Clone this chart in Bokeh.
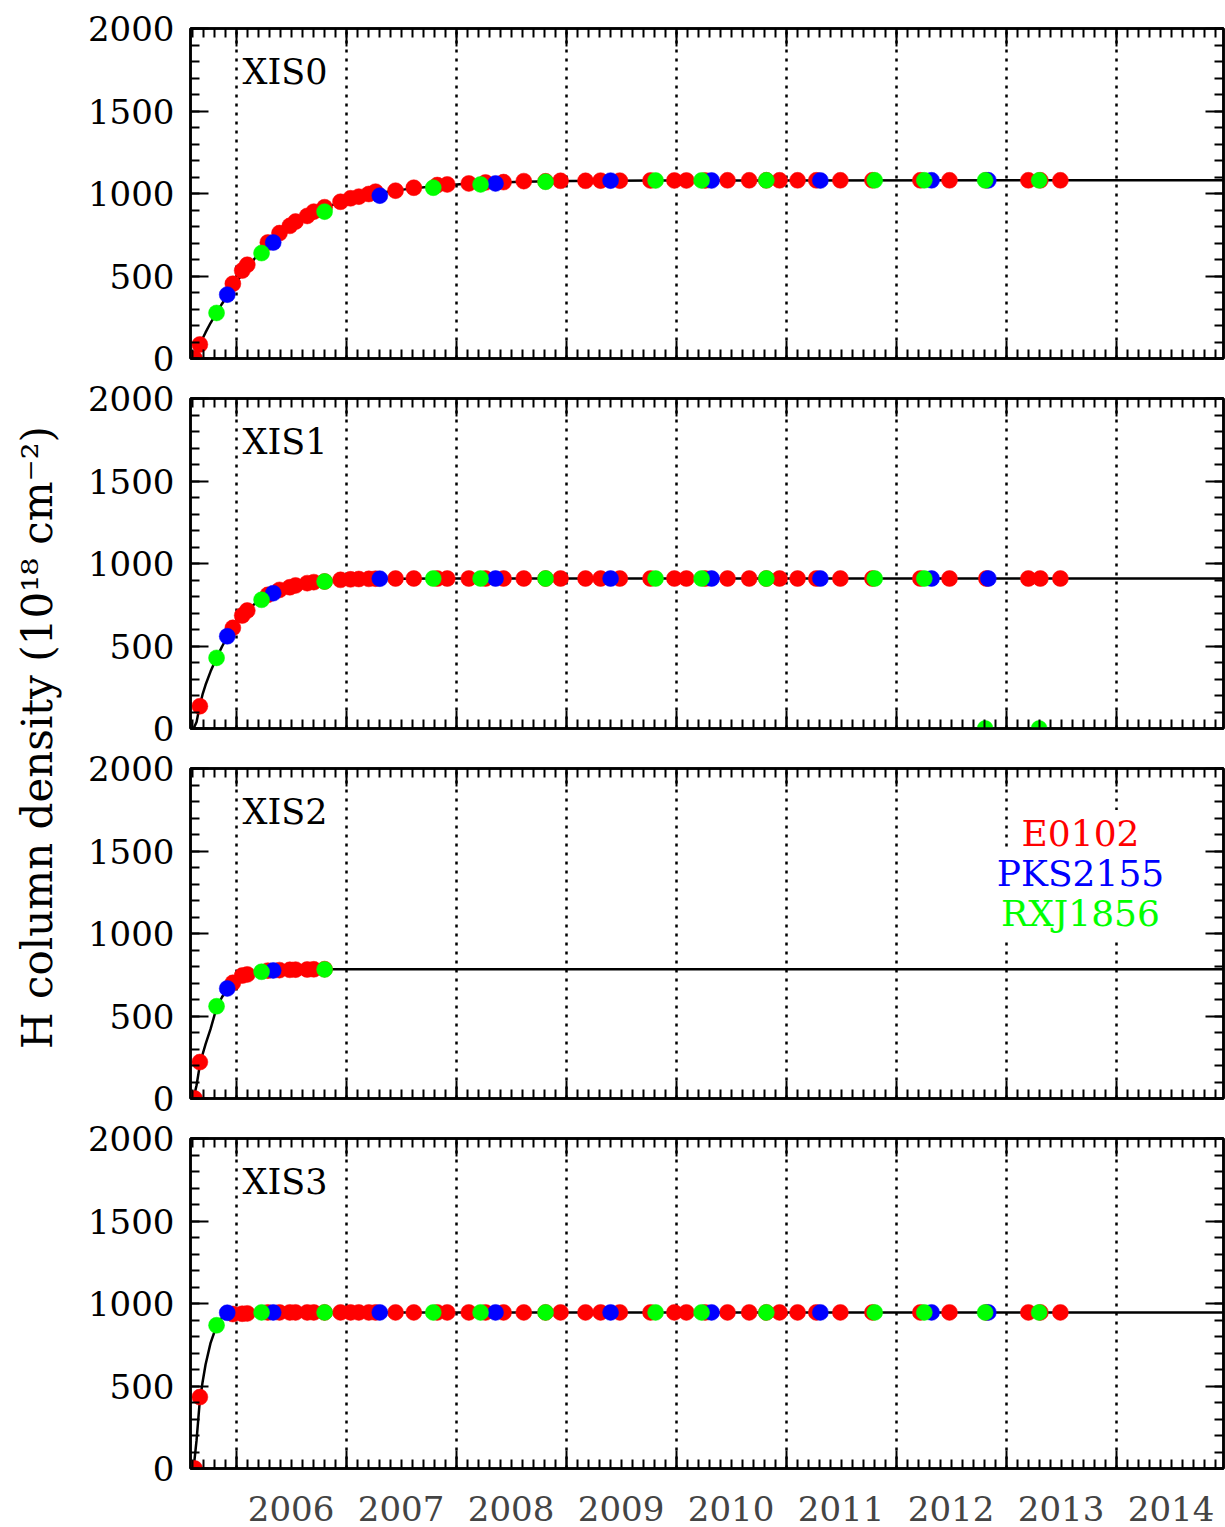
import math
import numpy as np
from bokeh.plotting import figure
from bokeh.layouts import row, column
from bokeh.models import (Range1d, LinearAxis, FixedTicker, SingleIntervalTicker,
                          Label, CustomJSTickFormatter)
from bokeh.embed import file_html
from bokeh.resources import INLINE

nan = float("nan")

# ---------------- data ----------------
detectors = ["XIS0", "XIS1", "XIS2", "XIS3"]
year_bounds = [2006, 2007, 2008, 2009, 2010, 2011, 2012, 2013, 2014]
year_labels = ["2006", "2007", "2008", "2009", "2010", "2011", "2012", "2013", "2014"]
source_names = ["E0102", "PKS2155", "RXJ1856"]

# observation epochs (year)
e0102_t = [2005.623, 2005.671, 2005.971, 2006.056, 2006.102, 2006.289, 2006.395, 2006.489,
           2006.541, 2006.647, 2006.707, 2006.805, 2006.950, 2007.041, 2007.116, 2007.207,
           2007.268, 2007.450, 2007.616, 2007.829, 2007.920, 2008.116, 2008.268, 2008.432,
           2008.616, 2008.814, 2008.950, 2009.177, 2009.314, 2009.489, 2009.768, 2009.985,
           2010.094, 2010.265, 2010.468, 2010.665, 2010.821, 2010.941, 2011.105, 2011.275,
           2011.494, 2011.785, 2012.221, 2012.486, 2012.821, 2013.203, 2013.312, 2013.494]
pks2155_t = [2005.920, 2006.338, 2007.307, 2008.359, 2009.405, 2010.323, 2011.312, 2012.323, 2012.839]
rxj1856_t = [2005.823, 2006.232, 2006.805, 2007.793, 2008.223, 2008.814, 2009.814, 2010.232,
             2010.821, 2011.806, 2012.257, 2012.810, 2013.301]

# H column density (1e18 cm^-2) per detector
e0102_xis0 = [0, 85, 453, 533, 568, 703, 760, 804, 830, 864, 890, 917, 950, 971, 981, 997,
              1011, 1017, 1035, 1051, 1055, 1061, 1067, 1069, 1075, 1074, 1077, 1077, 1078, 1078,
              1079, 1079, 1079, 1079, 1080, 1080, 1080, 1080, 1080, 1080, 1080, 1080, 1080, 1080,
              1080, 1080, 1080, 1080]
e0102_xis1 = [nan, 135, 610, 685, 715, 810, 840, 856, 867, 881, 887, 891, 901, 904, 906, 907,
              908, 909, 909, 909, 909, 909, 909, 909, 909, 909, 909, 909, 909, 909,
              909, 909, 909, 909, 909, 909, 909, 909, 909, 909, 909, 909, 909, 909,
              909, 909, 909, 909]
e0102_xis2 = [0, 221, 701, 745, 752, 775, 778, 780, 781, 782, 783, 784, nan, nan, nan, nan,
              nan, nan, nan, nan, nan, nan, nan, nan, nan, nan, nan, nan, nan, nan,
              nan, nan, nan, nan, nan, nan, nan, nan, nan, nan, nan, nan, nan, nan,
              nan, nan, nan, nan]
e0102_xis3 = [0, 433, 936, 938, 940, 946, 946, 946, 946, 946, 946, 946, 946, 946, 946, 946,
              946, 946, 946, 946, 946, 946, 946, 946, 946, 946, 946, 946, 946, 946,
              946, 946, 946, 946, 946, 946, 946, 946, 946, 946, 946, 946, 946, 946,
              946, 946, 946, 946]

pks2155_xis0 = [387, 703, 987, 1061, 1078, 1079, 1079, 1080, 1080]
pks2155_xis1 = [559, 820, 908, 909, 909, 909, 909, 909, 909]
pks2155_xis2 = [667, 776, nan, nan, nan, nan, nan, nan, nan]
pks2155_xis3 = [944, 946, 946, 946, 946, 946, 946, 946, 946]

rxj1856_xis0 = [276, 639, 890, 1035, 1055, 1071, 1079, 1079, 1080, 1080, 1080, 1080, 1080]
rxj1856_xis1 = [428, 780, 891, 909, 909, 909, 909, 909, 909, 909, 909, 0, 0]
rxj1856_xis2 = [559, 768, 782, nan, nan, nan, nan, nan, nan, nan, nan, nan, nan]
rxj1856_xis3 = [868, 946, 946, 946, 946, 946, 946, 946, 946, 946, 946, 946, 946]

# model curve
curve_t = [2005.614, 2005.641, 2005.668, 2005.695, 2005.723, 2005.768, 2005.823, 2005.873,
           2005.923, 2005.995, 2006.086, 2006.177, 2006.268, 2006.405, 2006.541, 2006.677,
           2006.814, 2006.995, 2007.223, 2007.495, 2007.814, 2008.132, 2008.586, 2009.041,
           2009.768, 2014.977]
curve_xis0 = [0, 42, 82, 120, 158, 215, 276, 332, 385, 455, 540, 612, 675, 755, 822, 875,
              916, 958, 995, 1022, 1045, 1060, 1071, 1076, 1079, 1080]
curve_xis1 = [0, 40, 130, 205, 265, 345, 428, 497, 559, 635, 705, 760, 800, 843, 868, 884,
              893, 901, 906, 908, 909, 909, 909, 909, 909, 909]
curve_xis2 = [0, 80, 190, 265, 330, 420, 550, 615, 667, 712, 745, 763, 773, 779, 782, 783,
              784, 784, 784, 784, 784, 784, 784, 784, 784, 784]
curve_xis3 = [0, 170, 390, 520, 630, 760, 865, 915, 937, 945, 946, 946, 946, 946, 946, 946,
              946, 946, 946, 946, 946, 946, 946, 946, 946, 946]

panels = [
    ("XIS0", e0102_xis0, pks2155_xis0, rxj1856_xis0, curve_xis0),
    ("XIS1", e0102_xis1, pks2155_xis1, rxj1856_xis1, curve_xis1),
    ("XIS2", e0102_xis2, pks2155_xis2, rxj1856_xis2, curve_xis2),
    ("XIS3", e0102_xis3, pks2155_xis3, rxj1856_xis3, curve_xis3),
]

# ---------------- style ----------------
FONT = "DejaVu Serif"
TICK_FS = "34px"
X0, X1 = 2005.586, 2014.977
minor_x = [round(v, 2) for v in np.arange(2005.6, 2015.0, 0.1)]
colors = ["#ff0000", "#0000ff", "#00ff00"]


def blank():
    return CustomJSTickFormatter(code="return ''")


def style_axis(ax):
    ax.axis_line_width = 2.5
    ax.axis_line_color = "black"
    ax.major_tick_line_width = 2
    ax.minor_tick_line_width = 2
    ax.major_tick_line_color = "black"
    ax.minor_tick_line_color = "black"
    ax.major_tick_in = 18
    ax.major_tick_out = 0
    ax.minor_tick_in = 9
    ax.minor_tick_out = 0
    ax.major_label_text_font = FONT
    ax.major_label_text_font_size = TICK_FS
    ax.major_label_text_color = "black"


def xticker():
    return FixedTicker(ticks=year_bounds, minor_ticks=minor_x)


def yticker():
    return SingleIntervalTicker(interval=500, num_minor_ticks=5)


borders = [(28, 20), (20, 20), (20, 20), (20, 80)]

figs = []
for i, (name, e_v, p_v, r_v, c_v) in enumerate(panels):
    top, bot = borders[i]
    p = figure(frame_width=1033, frame_height=330,
               x_range=Range1d(X0, X1), y_range=Range1d(0, 2000),
               output_backend="svg", toolbar_location=None,
               min_border_left=120, min_border_right=2,
               min_border_top=top, min_border_bottom=bot,
               background_fill_color="white", border_fill_color="white")
    p.outline_line_color = "black"
    p.outline_line_width = 2.5

    # left axis
    ya = p.yaxis[0]
    ya.ticker = yticker()
    style_axis(ya)
    ya.major_label_standoff = 16
    # bottom axis (year boundary ticks, no labels)
    xa = p.xaxis[0]
    xa.ticker = xticker()
    style_axis(xa)
    xa.formatter = blank()
    xa.major_label_text_font_size = "1px"
    xa.major_label_standoff = 0

    # right + top axes
    ra = LinearAxis(ticker=yticker(), formatter=blank())
    style_axis(ra)
    ra.major_label_text_font_size = "1px"
    ra.major_label_standoff = 0
    p.add_layout(ra, "right")
    ta = LinearAxis(ticker=xticker(), formatter=blank())
    style_axis(ta)
    ta.major_label_text_font_size = "1px"
    ta.major_label_standoff = 0
    p.add_layout(ta, "above")

    # grid
    p.ygrid.visible = False
    p.xgrid.ticker = FixedTicker(ticks=year_bounds)
    p.xgrid.grid_line_color = "black"
    p.xgrid.grid_line_width = 2.5
    p.xgrid.grid_line_dash = "3 6"

    # curve and points
    p.line(curve_t, c_v, line_color="black", line_width=2.5)
    for t, v, c in [(e0102_t, e_v, colors[0]), (pks2155_t, p_v, colors[1]), (rxj1856_t, r_v, colors[2])]:
        p.scatter(np.array(t, dtype=float), np.array(v, dtype=float), size=16,
                  fill_color=c, line_color=c, line_width=0.5)

    p.add_layout(Label(x=2006.059, y=1735, text=name, text_font=FONT, text_font_size="35px",
                       text_align="left", text_baseline="alphabetic", text_color="black"))

    if i == 2:
        for nm, c, yv in zip(source_names, colors, [1606, 1364, 1121]):
            p.add_layout(Label(x=2013.677, y=yv, text=nm, text_font=FONT, text_font_size="36px",
                               text_align="center", text_baseline="alphabetic", text_color=c,
                               background_fill_color="white", padding=3))

    if i == 3:
        mid_years = [y + 0.5 for y in year_bounds]
        la = LinearAxis(ticker=FixedTicker(ticks=mid_years, minor_ticks=[]),
                        major_label_overrides={m: s for m, s in zip(mid_years, year_labels)})
        la.axis_line_color = None
        la.major_tick_line_color = None
        la.minor_tick_line_color = None
        la.major_tick_in = 0
        la.major_tick_out = 0
        la.major_label_text_font = FONT
        la.major_label_text_font_size = TICK_FS
        la.major_label_standoff = 27
        p.add_layout(la, "below")

    figs.append(p)

# y-axis title column
LAB_H = 1520
lab = figure(width=70, height=LAB_H, x_range=Range1d(0, 1), y_range=Range1d(0, 1),
             output_backend="svg", toolbar_location=None, min_border=0,
             x_axis_type=None, y_axis_type=None, outline_line_color=None)
lab.grid.visible = False
lab.add_layout(Label(x=37, y=LAB_H - 737, x_units="screen", y_units="screen",
                     text="H column density (10¹⁸ cm⁻²)", angle=math.pi / 2,
                     text_align="center", text_baseline="middle",
                     text_font=FONT, text_font_size="42px", text_color="black"))

layout = row(lab, column(*figs))
open("out.html", "w").write(file_html(layout, INLINE))
